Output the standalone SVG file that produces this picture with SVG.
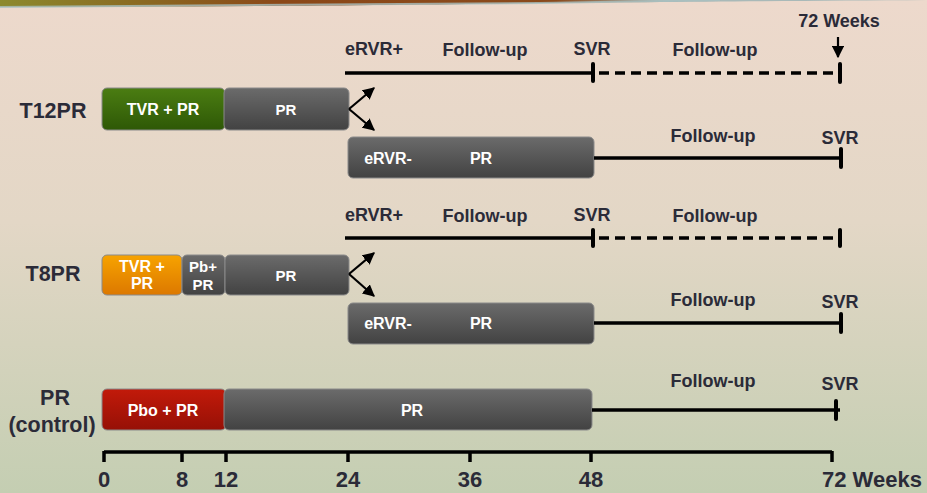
<svg xmlns="http://www.w3.org/2000/svg" width="927" height="493" viewBox="0 0 927 493">
<defs>
<linearGradient id="bg" x1="0" y1="0" x2="0" y2="1">
<stop offset="0" stop-color="#edd9cc"/>
<stop offset="0.45" stop-color="#e3d7c6"/>
<stop offset="1" stop-color="#c4ceb2"/>
</linearGradient>
<linearGradient id="band" x1="0" y1="0" x2="1" y2="0">
<stop offset="0" stop-color="#8c8a2e"/>
<stop offset="0.15" stop-color="#8a6a22"/>
<stop offset="0.3" stop-color="#8b4818"/>
<stop offset="0.6" stop-color="#8a4a1c"/>
<stop offset="0.72" stop-color="#a9b9b8"/>
</linearGradient>
<linearGradient id="gGray" x1="0" y1="0" x2="0" y2="1">
<stop offset="0" stop-color="#6b6b6b"/>
<stop offset="1" stop-color="#424242"/>
</linearGradient>
<linearGradient id="gGreen" x1="0" y1="0" x2="0" y2="1">
<stop offset="0" stop-color="#4b7d12"/>
<stop offset="1" stop-color="#2e5806"/>
</linearGradient>
<linearGradient id="gOrange" x1="0" y1="0" x2="0" y2="1">
<stop offset="0" stop-color="#f7a300"/>
<stop offset="1" stop-color="#dc7800"/>
</linearGradient>
<linearGradient id="gRed" x1="0" y1="0" x2="0" y2="1">
<stop offset="0" stop-color="#c21a0a"/>
<stop offset="1" stop-color="#961006"/>
</linearGradient>
<marker id="ah" viewBox="0 0 10 10" refX="9" refY="5" markerWidth="5.5" markerHeight="5.5" orient="auto" markerUnits="strokeWidth">
<path d="M0,0 L10,5 L0,10 z" fill="#000"/>
</marker>
</defs>
<style>
.t{font-family:"Liberation Sans",Arial,sans-serif;font-weight:bold;fill:#2b2b38}
.lbl{font-size:18px;text-anchor:middle}
.row{font-size:21.5px;text-anchor:middle}
.ax{font-size:22px}
.w{font-family:"Liberation Sans",Arial,sans-serif;font-weight:bold;fill:#fff;font-size:16px;text-anchor:middle}
.s{font-size:15px}
.bar{stroke:#8a8a8a;stroke-width:1}
.ln{stroke:#000;stroke-width:3.5;fill:none}
.dash{stroke:#000;stroke-width:3.5;fill:none;stroke-dasharray:10 6}
.tk{stroke:#000;stroke-width:4;stroke-linecap:round}
.ar{stroke:#000;stroke-width:2.2;fill:none}
</style>
<rect x="0" y="0" width="927" height="493" fill="url(#bg)"/>
<path d="M0,0 H927 V0 C800,1 650,2 540,3 C400,5 200,7 0,7 Z" fill="url(#band)"/>
<path d="M0,7 C200,7 400,5 540,3 C620,2 680,1 720,0" stroke="#a9c0c0" stroke-width="2" fill="none" opacity="0.8"/>

<g id="labels-top">
<text class="t lbl" x="839" y="27">72 Weeks</text>
<line class="ar" x1="838" y1="37" x2="838" y2="57" marker-end="url(#ah)"/>
</g>

<g id="row-T12PR">
<text class="t row" x="53" y="118">T12PR</text>
<rect class="bar" x="102" y="88" width="123" height="42" rx="5" fill="url(#gGreen)" stroke="#3d6a0c"/>
<text class="w" x="163" y="115">TVR + PR</text>
<rect class="bar" x="224" y="88" width="125" height="42" rx="5" fill="url(#gGray)"/>
<text class="w s" x="286" y="115">PR</text>
</g>
<g id="T12PR-erplus">
<text class="t lbl" x="374" y="55">eRVR+</text>
<text class="t lbl" x="485" y="56">Follow-up</text>
<text class="t lbl" x="592" y="55">SVR</text>
<text class="t lbl" x="715" y="56">Follow-up</text>
</g>
<g id="T12PR-erminus">
<rect class="bar" x="348" y="137" width="246" height="41" rx="5" fill="url(#gGray)"/>
<text class="w" x="388" y="164">eRVR-</text>
<text class="w" x="481" y="164">PR</text>
<text class="t lbl" x="713" y="142">Follow-up</text>
<text class="t lbl" x="840" y="144">SVR</text>
</g>

<g id="row-T8PR">
<text class="t row" x="53" y="281">T8PR</text>
<rect class="bar" x="102" y="255" width="80" height="40" rx="5" fill="url(#gOrange)" stroke="#e89a30"/>
<text class="w" x="142" y="272">TVR +</text>
<text class="w" x="142" y="289">PR</text>
<rect class="bar" x="182" y="255" width="43" height="40" rx="5" fill="url(#gGray)"/>
<text class="w s" x="203" y="272">Pb+</text>
<text class="w s" x="203" y="290">PR</text>
<rect class="bar" x="225" y="255" width="124" height="40" rx="5" fill="url(#gGray)"/>
<text class="w s" x="286" y="281">PR</text>
</g>
<g id="T8PR-erplus">
<text class="t lbl" x="374" y="221">eRVR+</text>
<text class="t lbl" x="485" y="222">Follow-up</text>
<text class="t lbl" x="592" y="221">SVR</text>
<text class="t lbl" x="715" y="222">Follow-up</text>
</g>
<g id="T8PR-erminus">
<rect class="bar" x="348" y="303" width="246" height="41" rx="5" fill="url(#gGray)"/>
<text class="w" x="388" y="329">eRVR-</text>
<text class="w" x="481" y="329">PR</text>
<text class="t lbl" x="713" y="306">Follow-up</text>
<text class="t lbl" x="840" y="308">SVR</text>
</g>

<g id="row-PR">
<text class="t row" x="55" y="405">PR</text>
<text class="t row" x="52" y="432">(control)</text>
<rect class="bar" x="102" y="389" width="124" height="41" rx="5" fill="url(#gRed)" stroke="#b84a3a"/>
<text class="w" x="163" y="416">Pbo + PR</text>
<rect class="bar" x="224" y="389" width="368" height="41" rx="5" fill="url(#gGray)"/>
<text class="w" x="412" y="416">PR</text>
<text class="t lbl" x="713" y="387">Follow-up</text>
<text class="t lbl" x="840" y="390">SVR</text>
</g>

<g id="connectors">
<line class="ln" x1="345" y1="73" x2="593" y2="73"/>
<line class="dash" x1="599" y1="73" x2="836" y2="73"/>
<line class="tk" x1="593" y1="64" x2="593" y2="81"/>
<line class="tk" x1="840" y1="64" x2="840" y2="82"/>
<path class="ar" d="M349,109 L374,88" marker-end="url(#ah)"/>
<path class="ar" d="M349,109 L374,130" marker-end="url(#ah)"/>
<line class="ln" x1="594" y1="158" x2="840" y2="158"/>
<line class="tk" x1="841" y1="149" x2="841" y2="167"/>

<line class="ln" x1="345" y1="238" x2="593" y2="238"/>
<line class="dash" x1="599" y1="238" x2="836" y2="238"/>
<line class="tk" x1="593" y1="230" x2="593" y2="246"/>
<line class="tk" x1="840" y1="230" x2="840" y2="246"/>
<path class="ar" d="M349,274 L374,253" marker-end="url(#ah)"/>
<path class="ar" d="M349,274 L374,296" marker-end="url(#ah)"/>
<line class="ln" x1="594" y1="323" x2="840" y2="323"/>
<line class="tk" x1="841" y1="314" x2="841" y2="332"/>

<line class="ln" x1="592" y1="410" x2="840" y2="410"/>
<line class="tk" x1="836" y1="401" x2="836" y2="419"/>
</g>

<g id="axis">
<line x1="104" y1="452" x2="832" y2="452" stroke="#000" stroke-width="3.5"/>
<g stroke="#000" stroke-width="3.5">
<line x1="104" y1="451" x2="104" y2="462"/>
<line x1="182" y1="451" x2="182" y2="462"/>
<line x1="226" y1="451" x2="226" y2="462"/>
<line x1="348" y1="451" x2="348" y2="462"/>
<line x1="470" y1="451" x2="470" y2="462"/>
<line x1="591" y1="451" x2="591" y2="462"/>
<line x1="832" y1="451" x2="832" y2="462"/>
</g>
<text class="t ax" x="104" y="487" text-anchor="middle">0</text>
<text class="t ax" x="182" y="487" text-anchor="middle">8</text>
<text class="t ax" x="226" y="487" text-anchor="middle">12</text>
<text class="t ax" x="348" y="487" text-anchor="middle">24</text>
<text class="t ax" x="470" y="487" text-anchor="middle">36</text>
<text class="t ax" x="591" y="487" text-anchor="middle">48</text>
<text class="t ax" x="822" y="487">72 Weeks</text>
</g>
</svg>
